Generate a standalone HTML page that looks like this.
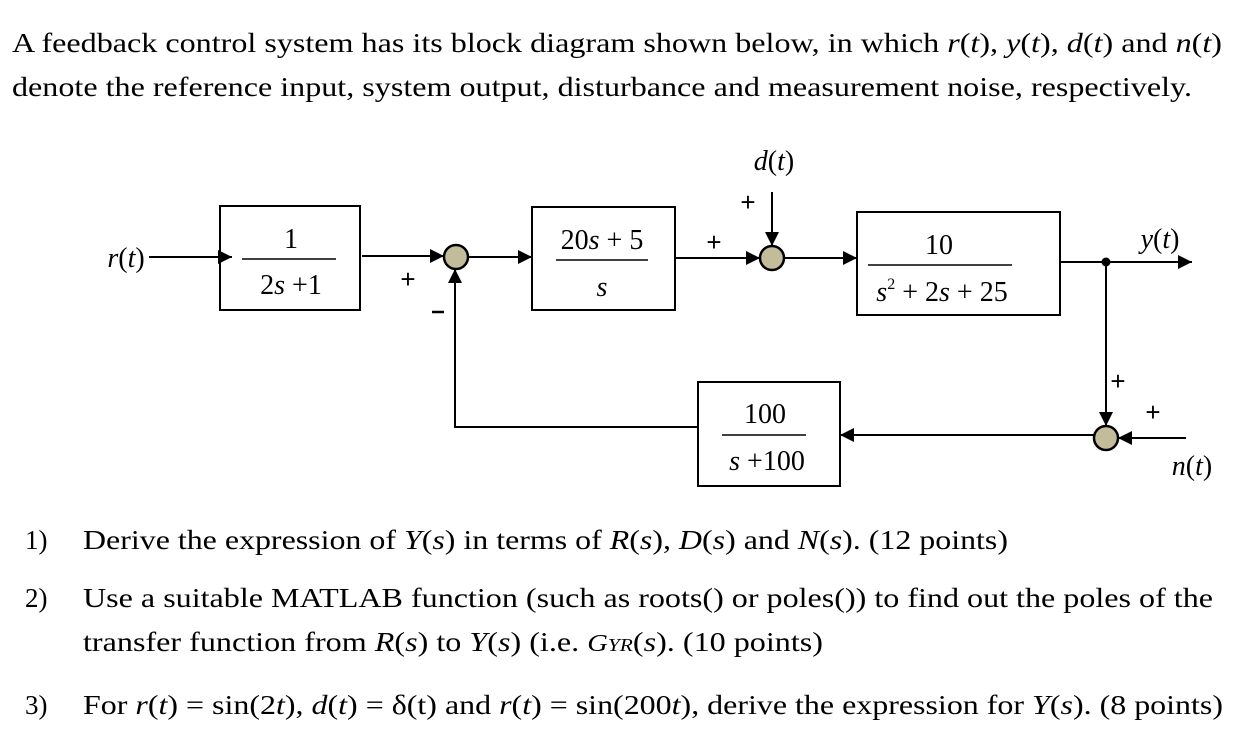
<!DOCTYPE html>
<html><head><meta charset="utf-8"><style>
html,body{margin:0;padding:0;background:#fff;}
svg{display:block;font-family:"Liberation Serif",serif;}
</style></head><body>
<svg width="1256" height="738" viewBox="0 0 1256 738" xmlns="http://www.w3.org/2000/svg">
<defs><marker id="a" viewBox="0 0 10 10" refX="10" refY="5" markerWidth="14" markerHeight="14" markerUnits="userSpaceOnUse" orient="auto"><path d="M0,0 L10,5 L0,10z" fill="#000"/></marker></defs>
<g font-size="27" fill="#000">
<text x="12" y="52" textLength="1210" lengthAdjust="spacingAndGlyphs">A feedback control system has its block diagram shown below, in which <tspan font-style="italic">r</tspan>(<tspan font-style="italic">t</tspan>), <tspan font-style="italic">y</tspan>(<tspan font-style="italic">t</tspan>), <tspan font-style="italic">d</tspan>(<tspan font-style="italic">t</tspan>) and <tspan font-style="italic">n</tspan>(<tspan font-style="italic">t</tspan>)</text>
<text x="12" y="96" textLength="1180" lengthAdjust="spacingAndGlyphs">denote the reference input, system output, disturbance and measurement noise, respectively.</text>
<text x="25" y="549">1)</text>
<text x="83" y="549" textLength="925" lengthAdjust="spacingAndGlyphs">Derive the expression of <tspan font-style="italic">Y</tspan>(<tspan font-style="italic">s</tspan>) in terms of <tspan font-style="italic">R</tspan>(<tspan font-style="italic">s</tspan>), <tspan font-style="italic">D</tspan>(<tspan font-style="italic">s</tspan>) and <tspan font-style="italic">N</tspan>(<tspan font-style="italic">s</tspan>). (12 points)</text>
<text x="25" y="607">2)</text>
<text x="83" y="607" textLength="1130" lengthAdjust="spacingAndGlyphs">Use a suitable MATLAB function (such as roots() or poles()) to find out the poles of the</text>
<text x="83" y="651" textLength="740" lengthAdjust="spacingAndGlyphs">transfer function from <tspan font-style="italic">R</tspan>(<tspan font-style="italic">s</tspan>) to <tspan font-style="italic">Y</tspan>(<tspan font-style="italic">s</tspan>) (i.e. <tspan font-style="italic" font-size="24">G</tspan><tspan font-style="italic" font-size="18">YR</tspan>(<tspan font-style="italic">s</tspan>). (10 points)</text>
<text x="25" y="714">3)</text>
<text x="83" y="714" textLength="1140" lengthAdjust="spacingAndGlyphs">For <tspan font-style="italic">r</tspan>(<tspan font-style="italic">t</tspan>) = sin(2<tspan font-style="italic">t</tspan>), <tspan font-style="italic">d</tspan>(<tspan font-style="italic">t</tspan>) = δ(t) and <tspan font-style="italic">r</tspan>(<tspan font-style="italic">t</tspan>) = sin(200<tspan font-style="italic">t</tspan>), derive the expression for <tspan font-style="italic">Y</tspan>(<tspan font-style="italic">s</tspan>). (8 points)</text>
</g>
<g stroke="#000" stroke-width="2" fill="none">
<rect x="220" y="206" width="140" height="104" fill="#fff"/>
<rect x="532" y="207" width="143" height="103" fill="#fff"/>
<rect x="857" y="212" width="203" height="103" fill="#fff"/>
<rect x="698" y="382" width="142" height="104" fill="#fff"/>
<line x1="149" y1="257" x2="232" y2="257" marker-end="url(#a)"/>
<line x1="362" y1="256" x2="444" y2="256" marker-end="url(#a)"/>
<line x1="468" y1="257" x2="532" y2="257" marker-end="url(#a)"/>
<line x1="676" y1="258" x2="760" y2="258" marker-end="url(#a)"/>
<line x1="772" y1="192" x2="772" y2="246" marker-end="url(#a)"/>
<line x1="784" y1="258" x2="857" y2="258" marker-end="url(#a)"/>
<line x1="1060" y1="262" x2="1192" y2="262" marker-end="url(#a)"/>
<line x1="1106" y1="262" x2="1106" y2="426" marker-end="url(#a)"/>
<line x1="1186" y1="438" x2="1118" y2="438" marker-end="url(#a)"/>
<line x1="1094" y1="435" x2="840" y2="435" marker-end="url(#a)"/>
<polyline points="698,427 455,427 455,269" marker-end="url(#a)"/>
</g>
<circle cx="1106" cy="262" r="4.5" fill="#000"/>
<g fill="#c3bc9b" stroke="#000" stroke-width="2.5">
<circle cx="456" cy="257" r="12"/>
<circle cx="772" cy="258" r="12"/>
<circle cx="1106" cy="438" r="12"/>
</g>
<g stroke="#000" stroke-width="1.5">
<line x1="242" y1="259" x2="336" y2="259"/>
<line x1="556" y1="260" x2="648" y2="260"/>
<line x1="868" y1="265" x2="1012" y2="265"/>
<line x1="722" y1="435" x2="806" y2="435"/>
</g>
<g font-size="28" text-anchor="middle" fill="#000">
<text x="291" y="248">1</text>
<text x="291" y="294">2<tspan font-style="italic">s</tspan> +1</text>
<text x="602" y="249">20<tspan font-style="italic">s</tspan> + 5</text>
<text x="602" y="296" font-style="italic">s</text>
<text x="939" y="254">10</text>
<text x="942" y="301"><tspan font-style="italic">s</tspan><tspan font-size="16" dy="-12">2</tspan><tspan dy="12"> + 2</tspan><tspan font-style="italic">s</tspan> + 25</text>
<text x="765" y="423">100</text>
<text x="767" y="470"><tspan font-style="italic">s</tspan> +100</text>
<text x="126" y="267"><tspan font-style="italic">r</tspan>(<tspan font-style="italic">t</tspan>)</text>
<text x="774" y="170"><tspan font-style="italic">d</tspan>(<tspan font-style="italic">t</tspan>)</text>
<text x="1160" y="248"><tspan font-style="italic">y</tspan>(<tspan font-style="italic">t</tspan>)</text>
<text x="1192" y="475"><tspan font-style="italic">n</tspan>(<tspan font-style="italic">t</tspan>)</text>
<text x="408" y="288" font-family="Liberation Sans" font-size="26">+</text>
<text x="714" y="251" font-family="Liberation Sans" font-size="26">+</text>
<text x="748" y="211" font-family="Liberation Sans" font-size="26">+</text>
<text x="1118" y="390" font-family="Liberation Sans" font-size="26">+</text>
<text x="1153" y="421" font-family="Liberation Sans" font-size="26">+</text>
</g>
<line x1="432" y1="312" x2="444" y2="312" stroke="#000" stroke-width="2.5"/>
</svg>
</body></html>
